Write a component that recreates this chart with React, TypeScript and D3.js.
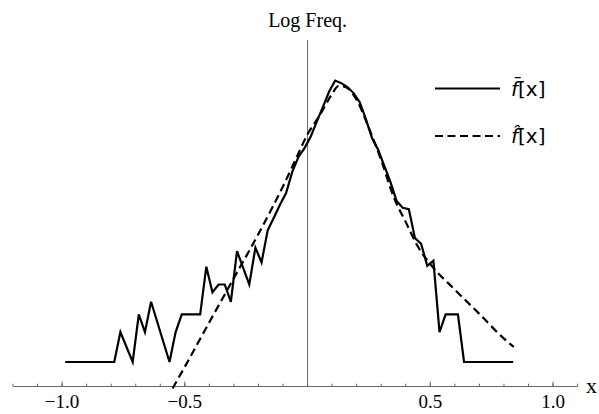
import React from "react";
import * as d3 from "d3";

const obsX = [
  -0.9875, -0.7875, -0.7625, -0.7125, -0.6875, -0.6625, -0.6375, -0.5625, -0.5375, -0.5125,
  -0.4375, -0.4125, -0.3875, -0.3625, -0.3375, -0.3125, -0.2875, -0.2375, -0.2125, -0.1875,
  -0.1625, -0.1375, -0.1125, -0.0875, -0.0625, -0.0375, -0.0125, 0.0125, 0.0375, 0.0625,
  0.0875, 0.1125, 0.1375, 0.1625, 0.1875, 0.2125, 0.2375, 0.2625, 0.2875, 0.3125,
  0.3375, 0.3625, 0.3875, 0.4125, 0.4375, 0.4625, 0.4875, 0.5125, 0.5375, 0.5625,
  0.6125, 0.6375, 0.8375,
];
const obsY = [
  0, 0, 0.69, 0, 1.1, 0.69, 1.39, 0, 0.69, 1.1,
  1.1, 2.2, 1.61, 1.79, 1.79, 1.39, 2.56, 1.79, 2.64, 2.3,
  3.04, 3.33, 3.63, 3.9, 4.39, 4.73, 4.94, 5.2, 5.55, 5.89,
  6.24, 6.5, 6.44, 6.35, 6.21, 6.0, 5.61, 5.17, 4.9, 4.53,
  4.16, 3.72, 3.56, 3.53, 2.86, 2.73, 2.22, 2.34, 0.69, 1.1,
  1.1, 0, 0,
];

// fitted log density
const fitX = [-0.55, -0.5, -0.4, -0.3, -0.2, -0.1, -0.05, 0, 0.05, 0.1, 0.125, 0.15, 0.2, 0.25, 0.3, 0.35, 0.4, 0.45, 0.5, 0.6, 0.7, 0.8, 0.84];
const fitY = [-0.61, -0.11, 0.92, 1.94, 2.96, 4.06, 4.66, 5.26, 5.7, 6.19, 6.37, 6.36, 6.05, 5.4, 4.66, 3.82, 3.23, 2.66, 2.26, 1.67, 1.11, 0.54, 0.35];

const majorTicks = [-1.0, -0.5, 0.5, 1.0];
const tickLabels = ["\u22121.0", "\u22120.5", "0.5", "1.0"];

const W = 599;
const H = 414;

export default function App() {
  const x = d3.scaleLinear().domain([-1.2, 1.1]).range([13, 577.6]);
  const y = d3.scaleLinear().domain([-0.566, 7.436]).range([386.5, 40]);
  const y0 = y(-0.566);

  const line = d3
    .line<number>()
    .x((d, i) => x(obsX[i]))
    .y((d) => y(d));
  const fitLine = d3
    .line<number>()
    .x((d, i) => x(fitX[i]))
    .y((d) => y(d))
    .curve(d3.curveMonotoneX);

  const minor = d3.range(-12, 12).map((k) => k / 10);
  const serif = "'Liberation Serif', 'Times New Roman', serif";
  const sans = "'DejaVu Sans', sans-serif";

  return (
    <svg
      width={W}
      height={H}
      style={{ position: "absolute", left: 0, top: 0, background: "#fff" }}
    >
      {/* axes */}
      <line x1={x(-1.2)} x2={x(1.1)} y1={y0} y2={y0} stroke="#666" strokeWidth={1} />
      <line x1={x(0)} x2={x(0)} y1={y(7.436)} y2={y0} stroke="#666" strokeWidth={1} />
      {minor.map((t) => (
        <line key={t} x1={x(t)} x2={x(t)} y1={y0} y2={y0 - 2.8} stroke="#666" strokeWidth={1} />
      ))}
      {majorTicks.map((t, i) => (
        <g key={t}>
          <line x1={x(t)} x2={x(t)} y1={y0} y2={y0 - 5} stroke="#666" strokeWidth={1} />
          <text x={x(t)} y={408} textAnchor="middle" fontFamily={serif} fontSize={19}>
            {tickLabels[i]}
          </text>
        </g>
      ))}
      <text x={586} y={393} fontFamily={serif} fontSize={22}>x</text>
      <text x={x(0)} y={27} textAnchor="middle" fontFamily={serif} fontSize={20}>
        Log Freq.
      </text>

      {/* series */}
      <path d={line(obsY) || ""} fill="none" stroke="#000" strokeWidth={2.2} strokeLinejoin="miter" />
      <path d={fitLine(fitY) || ""} fill="none" stroke="#000" strokeWidth={2.2} strokeDasharray="8,4.5" />

      {/* legend */}
      <line x1={435} x2={500} y1={88.5} y2={88.5} stroke="#000" strokeWidth={2.2} />
      <line x1={435} x2={500} y1={136} y2={136} stroke="#000" strokeWidth={2.2} strokeDasharray="8,4.5" />
      <text x={511} y={96} fontFamily={sans} fontSize={20}>
        <tspan fontStyle="italic">{"f\u0304"}</tspan>[x]
      </text>
      <text x={511} y={143} fontFamily={sans} fontSize={20}>
        <tspan fontStyle="italic">{"f\u0302"}</tspan>[x]
      </text>
    </svg>
  );
}
